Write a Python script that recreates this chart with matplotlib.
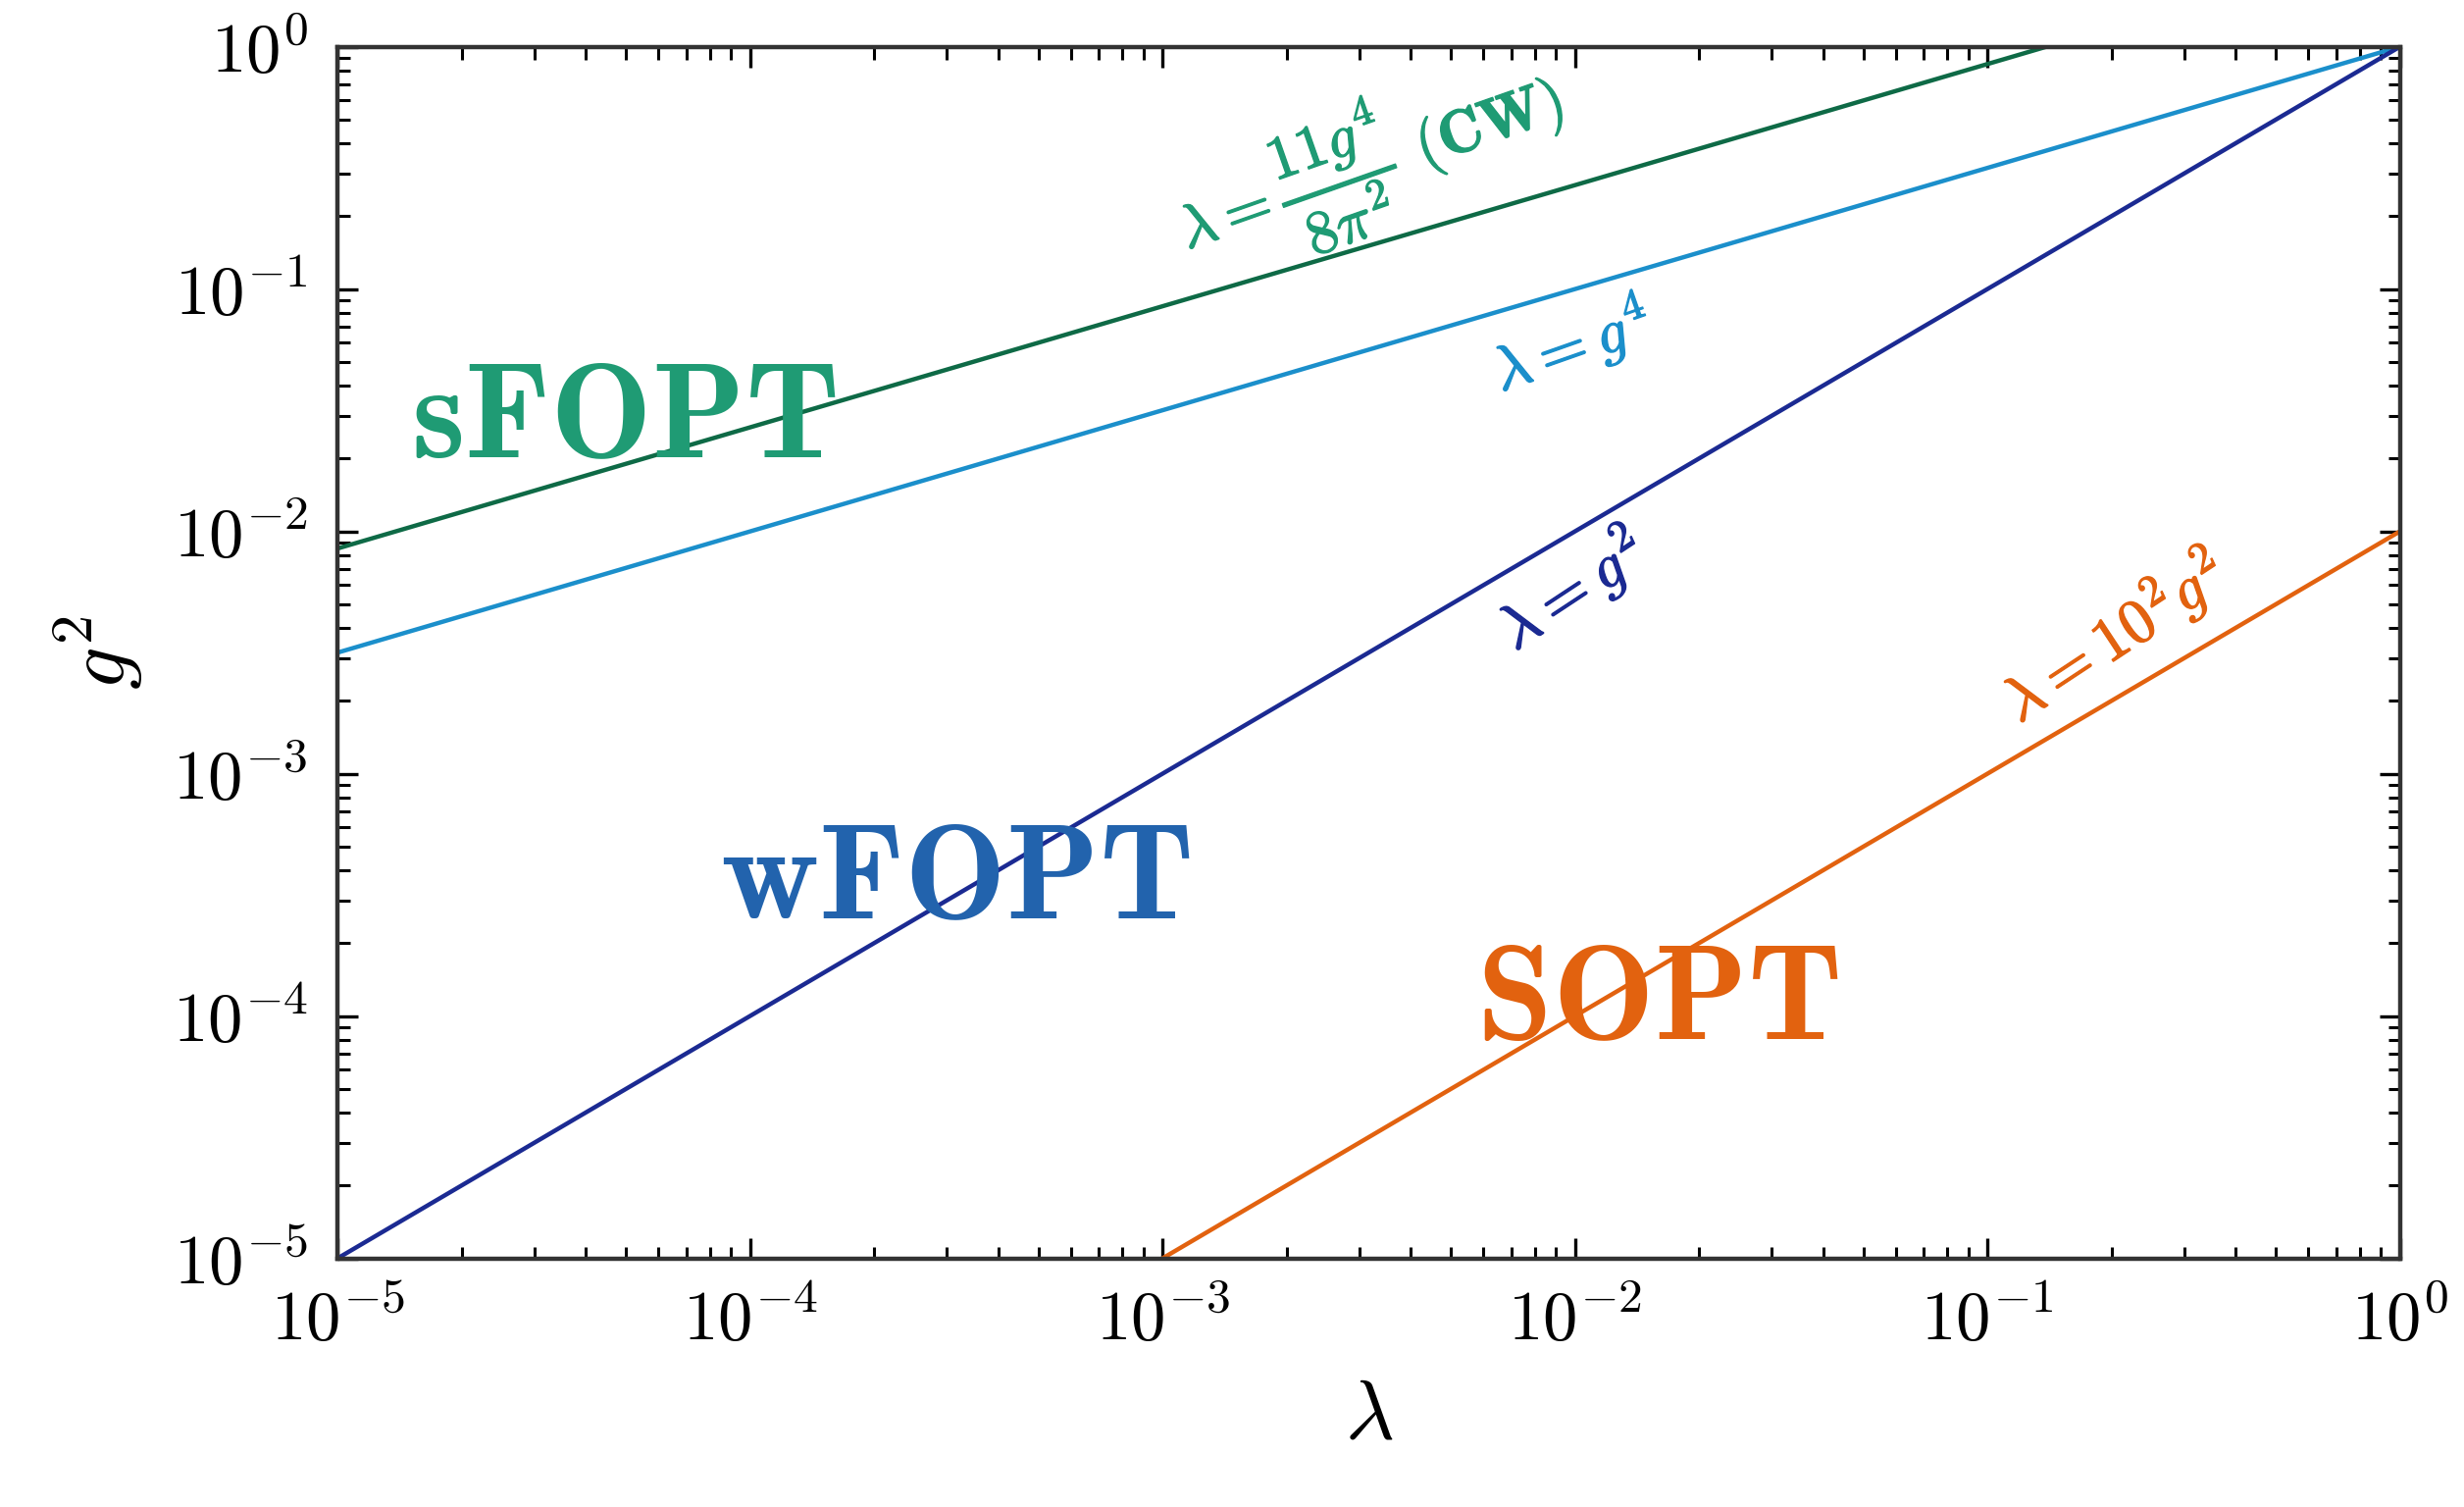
import numpy as np
import matplotlib
matplotlib.use('Agg')
import matplotlib.pyplot as plt
import matplotlib.patheffects as pe

plt.rcParams['mathtext.fontset'] = 'cm'
plt.rcParams['font.family'] = 'serif'
plt.rcParams['font.serif'] = ['cmr10', 'DejaVu Serif']
plt.rcParams['axes.formatter.use_mathtext'] = True

# endpoints of the boundary lines (lambda, g^2)
lam_cw = [1e-5, 0.139]
g2_cw = [8.5e-3, 1.0]
lam_g4 = [1e-5, 1.0]
g2_g4 = [3.16e-3, 1.0]
lam_g2 = [1e-5, 1.0]
g2_g2 = [1e-5, 1.0]
lam_s = [1e-3, 1.0]
g2_s = [1e-5, 1e-2]

c_cw_line = '#0e6a46'
c_cw_text = '#1f9b74'
c_g4 = '#1b8fcb'
c_g2 = '#1b2a92'
c_s = '#e2620f'
c_w = '#2263ad'

fig = plt.figure(figsize=(25.12, 15.36), dpi=100)
ax = fig.add_axes([0.137, 0.165, 0.837, 0.804])
ax.set_xscale('log')
ax.set_yscale('log')
ax.set_xlim(1e-5, 1)
ax.set_ylim(1e-5, 1)

lw = 3.2
ax.plot(lam_cw, g2_cw, color=c_cw_line, lw=lw)
ax.plot(lam_g4, g2_g4, color=c_g4, lw=lw)
ax.plot(lam_g2, g2_g2, color=c_g2, lw=lw)
ax.plot(lam_s, g2_s, color=c_s, lw=lw)

for s in ax.spines.values():
    s.set_linewidth(3.2)
    s.set_color('#333333')
ax.tick_params(which='both', direction='in', top=True, right=True, labelsize=51, pad=22)
ax.tick_params(which='major', length=15, width=2.4)
ax.tick_params(which='minor', length=9, width=2.2)

ax.set_xlabel(r'$\lambda$', fontsize=62, labelpad=18)
ax.set_ylabel(r'$g^2$', fontsize=62, labelpad=20)

def angle(xs, ys):
    p = ax.transData.transform(np.column_stack([xs, ys]))
    return np.degrees(np.arctan2(p[1, 1] - p[0, 1], p[1, 0] - p[0, 0]))

def put(xf, yf, txt, col, ang, fs, bold=0):
    t = ax.text(xf, yf, txt, color=col, fontsize=fs, rotation=ang,
                ha='center', va='center', transform=fig.transFigure, rotation_mode='anchor')
    if bold:
        t.set_path_effects([pe.withStroke(linewidth=bold, foreground=col)])

put(1397 / 2512, 1 - 168 / 1536, r'$\lambda = \dfrac{11g^4}{8\pi^2}\ \mathbf{(CW)}$', c_cw_text, angle(lam_cw, g2_cw) + 3, 45, 1.0)
put(1602 / 2512, 1 - 352 / 1536, r'$\lambda = g^4$', c_g4, angle(lam_g4, g2_g4) + 3, 46, 1.0)
put(1602 / 2512, 1 - 601 / 1536, r'$\lambda = g^2$', c_g2, angle(lam_g2, g2_g2) + 3, 46, 1.0)
put(2155 / 2512, 1 - 649 / 1536, r'$\lambda = 10^2 g^2$', c_s, angle(lam_s, g2_s) + 3, 46, 1.0)

put(636 / 2512, 1 - 432 / 1536, r'$\mathbf{sFOPT}$', c_cw_text, 0, 100)
put(974 / 2512, 1 - 902 / 1536, r'$\mathbf{wFOPT}$', c_w, 0, 100)
put(1690 / 2512, 1 - 1025 / 1536, r'$\mathbf{SOPT}$', c_s, 0, 100)

fig.savefig('out.png', dpi=100, facecolor='white')
